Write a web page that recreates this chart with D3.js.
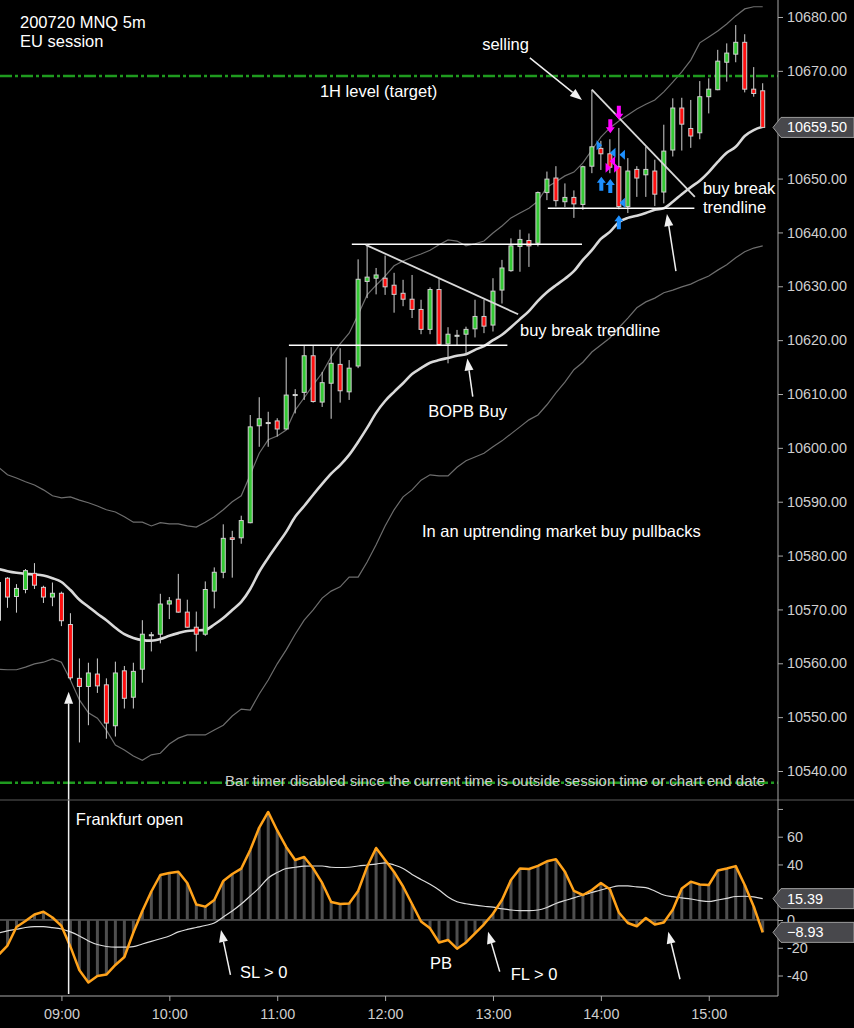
<!DOCTYPE html>
<html>
<head>
<meta charset="utf-8">
<script src="https://cdn.jsdelivr.net/npm/d3@7"></script>
<style>
  html, body { margin: 0; padding: 0; background: #000; }
  svg { display: block; font-family: "Liberation Sans", Arial, sans-serif; }
</style>
</head>
<body>
<div id="chart"></div>
<script>
// 5 minute bars, 08:25 .. 15:30
const barTimes = d3.range(86).map(i => new Date(2020, 6, 20, 8, 25 + 5 * i));

const opens = [10568.0,10575.8,10572.4,10573.7,10576.7,10574.1,10572.3,10573.0,10567.2,10557.2,
  10555.7,10558.0,10556.0,10548.4,10558.6,10553.7,10558.9,10565.2,10565.4,10571.0,
  10571.9,10569.5,10566.7,10565.4,10573.4,10576.9,10583.3,10583.3,10586.1,10604.1,
  10604.7,10605.0,10603.5,10609.8,10610.3,10617.1,10608.5,10612.0,10615.5,10610.4,
  10615.2,10630.9,10631.5,10631.5,10630.2,10628.7,10627.6,10625.7,10622.0,10629.4,
  10619.3,10620.8,10621.1,10622.1,10624.4,10622.8,10629.3,10632.9,10637.4,10638.5,
  10638.0,10647.4,10650.1,10645.7,10646.5,10645.2,10652.3,10655.6,10654.6,10652.2,
  10644.8,10651.7,10650.7,10651.4,10647.5,10655.3,10663.1,10659.3,10658.5,10665.2,
  10666.5,10671.6,10673.1,10675.3,10666.6,10666.3];
const highs = [10576.0,10576.0,10574.7,10577.5,10578.6,10574.4,10575.0,10573.3,10569.3,10560.9,
  10560.1,10560.9,10557.2,10560.3,10559.5,10560.1,10568.0,10565.8,10572.9,10572.3,
  10576.6,10571.8,10569.6,10575.2,10577.8,10585.8,10584.6,10587.4,10606.1,10609.4,
  10606.7,10605.5,10616.8,10610.9,10619.1,10619.1,10614.1,10618.7,10618.5,10616.3,
  10635.0,10637.7,10633.4,10635.7,10632.5,10631.2,10632.1,10627.5,10629.8,10631.4,
  10622.4,10621.9,10622.5,10627.5,10627.5,10631.5,10634.9,10638.9,10640.5,10639.8,
  10647.6,10651.3,10652.3,10649.1,10647.8,10652.4,10666.5,10657.0,10657.3,10659.4,
  10653.8,10652.3,10655.9,10653.5,10660.0,10664.9,10665.0,10664.6,10668.1,10668.6,
  10673.9,10675.1,10678.5,10676.8,10670.7,10667.7];
const lows = [10565.8,10570.3,10569.4,10573.0,10573.8,10571.2,10570.6,10566.9,10556.9,10545.3,
  10548.5,10554.5,10546.0,10546.4,10551.6,10551.6,10556.4,10562.2,10563.7,10568.2,
  10569.4,10566.6,10562.2,10565.1,10570.2,10575.8,10575.9,10582.2,10586.0,10600.2,
  10600.2,10602.1,10603.4,10606.4,10608.9,10608.4,10607.6,10605.4,10608.4,10608.9,
  10614.8,10627.8,10628.5,10628.4,10625.1,10626.3,10624.1,10621.1,10621.1,10619.2,
  10615.7,10619.1,10617.3,10620.5,10621.3,10621.6,10626.8,10632.7,10632.7,10633.6,
  10637.4,10646.0,10644.8,10644.7,10642.7,10644.2,10651.0,10651.6,10651.0,10644.3,
  10643.6,10646.6,10646.6,10644.9,10645.4,10654.1,10655.2,10655.7,10657.3,10662.1,
  10666.4,10668.0,10671.6,10666.0,10665.2,10659.5];
const closes = [10575.0,10572.3,10573.9,10577.2,10574.5,10572.3,10573.0,10567.9,10557.3,10555.7,
  10558.2,10555.8,10548.9,10558.2,10553.5,10558.5,10565.4,10565.3,10571.0,10571.6,
  10569.5,10566.7,10565.4,10573.7,10576.9,10583.2,10583.0,10586.5,10603.9,10605.4,
  10604.6,10603.5,10609.8,10609.9,10617.1,10608.6,10612.1,10615.7,10610.6,10614.8,
  10631.3,10631.7,10632.1,10629.9,10628.5,10627.6,10625.7,10622.0,10629.4,10619.2,
  10621.1,10620.9,10622.0,10624.4,10622.6,10629.1,10633.4,10637.5,10638.7,10637.5,
  10647.4,10649.9,10645.9,10646.5,10645.3,10652.2,10655.9,10654.6,10652.1,10644.8,
  10651.4,10650.1,10651.7,10647.1,10655.1,10663.1,10660.1,10657.9,10665.2,10666.6,
  10671.8,10673.3,10675.3,10666.6,10665.8,10659.5];

// channel: middle line and bands
const midLine = [10577.5,10577.1,10576.8,10576.6,10576.5,10576.3,10575.8,10575.1,10573.6,10571.8,
  10570.5,10569.2,10568.0,10566.6,10565.4,10564.7,10564.3,10564.2,10564.5,10565.1,
  10565.6,10566.0,10566.1,10566.2,10567.2,10568.4,10569.9,10571.4,10573.8,10577.0,
  10579.6,10582.0,10584.4,10587.2,10589.2,10591.3,10593.3,10595.2,10596.8,10598.7,
  10601.1,10603.7,10606.5,10608.7,10610.4,10612.0,10613.7,10614.8,10615.8,10616.3,
  10616.7,10617.1,10617.4,10618.2,10618.9,10620.0,10621.0,10622.4,10623.9,10625.4,
  10627.3,10628.9,10630.2,10631.4,10632.8,10634.9,10636.7,10638.8,10640.1,10641.9,
  10642.7,10643.1,10643.6,10644.2,10644.5,10645.7,10647.1,10648.4,10649.6,10651.2,
  10653.1,10654.8,10655.9,10657.9,10659.0,10659.6];
const upperBand = [10596.4,10595.0,10594.4,10593.7,10593.1,10592.2,10591.1,10590.7,10590.9,10590.3,
  10589.8,10589.2,10588.5,10588.1,10587.2,10586.2,10586.2,10585.5,10586.1,10585.9,
  10585.9,10585.5,10585.3,10586.2,10587.2,10588.5,10590.0,10591.1,10595.0,10599.0,
  10601.5,10602.2,10603.3,10607.0,10609.3,10611.7,10613.9,10616.9,10619.3,10621.3,
  10624.7,10628.4,10630.2,10631.9,10633.8,10634.7,10635.4,10636.0,10636.7,10637.7,
  10638.6,10638.4,10637.5,10637.9,10638.4,10639.9,10641.2,10642.7,10643.6,10644.5,
  10645.8,10648.4,10649.4,10650.5,10651.2,10652.9,10655.3,10657.7,10659.4,10660.7,
  10661.8,10662.9,10663.8,10664.6,10666.1,10667.9,10669.8,10672.0,10675.2,10676.3,
  10677.4,10678.7,10680.2,10681.5,10681.9,10681.9];
const lowerBand = [10558.9,10558.8,10558.8,10559.3,10559.9,10560.2,10560.8,10560.2,10556.9,10553.2,
  10550.8,10549.8,10547.6,10544.8,10543.9,10542.8,10542.0,10543.0,10543.3,10545.0,
  10546.1,10546.7,10546.7,10546.7,10547.6,10548.5,10550.2,10551.5,10551.3,10554.3,
  10556.9,10559.9,10562.5,10565.4,10568.0,10569.9,10572.1,10573.4,10574.2,10576.0,
  10576.0,10578.8,10582.0,10585.5,10588.5,10590.9,10592.2,10594.0,10595.0,10594.8,
  10594.8,10596.4,10597.6,10598.3,10599.0,10600.2,10601.3,10602.6,10603.9,10605.2,
  10606.1,10608.0,10610.2,10612.2,10614.5,10615.9,10617.8,10619.1,10620.4,10622.3,
  10624.1,10626.0,10627.1,10627.8,10628.8,10629.3,10629.9,10630.4,10631.2,10631.9,
  10633.0,10634.0,10635.3,10636.4,10637.1,10637.5];

// lower panel oscillator
const oscMain = [-25.2,-18.4,-5.0,-0.7,4.0,5.9,1.8,-4.3,-19.2,-36.3,
  -45.0,-40.3,-39.3,-32.4,-26.7,-9.0,6.5,20.5,32.4,33.9,
  34.7,26.7,11.2,9.6,14.4,28.1,33.1,37.0,50.4,66.6,
  77.8,64.5,52.6,43.2,45.4,37.2,26.7,13.0,11.5,11.9,
  20.9,38.4,51.9,43.2,34.6,24.1,11.5,-1.1,-6.0,-16.2,
  -14.4,-20.7,-16.2,-9.6,-3.1,4.5,14.4,28.8,37.1,36.7,
  39.0,42.3,43.8,34.8,20.9,18.0,21.6,26.7,22.1,5.4,
  -2.2,-4.5,1.4,-3.2,-1.8,7.4,22.7,27.6,25.6,25.2,
  35.7,37.1,38.8,25.2,9.7,-8.93];
const oscSignal = [-9.4,-7.9,-6.7,-5.4,-4.8,-4.8,-5.5,-6.5,-8.6,-11.5,
  -15.1,-17.7,-19.1,-19.6,-19.6,-19.2,-17.3,-15.4,-13.5,-11.5,
  -8.6,-6.8,-5.4,-4.0,-2.2,2.2,6.5,11.5,17.3,23.1,
  30.3,34.2,37.1,38.0,38.8,38.9,38.9,38.0,37.8,38.0,
  38.9,39.6,40.3,41.2,39.6,37.1,32.8,29.2,25.7,21.6,
  16.6,13.1,11.7,10.7,9.9,9.2,8.1,7.2,6.8,6.8,
  7.2,9.0,11.9,14.0,15.9,18.0,19.8,21.6,23.2,24.6,
  24.5,23.8,23.3,20.9,18.0,16.8,15.9,15.1,14.0,13.3,
  14.4,15.6,16.9,17.1,16.7,15.39];

// axis ticks; labels hidden behind the value tags are left out
const priceTicks = [10540,10550,10560,10570,10580,10590,10600,10610,10620,10630,10640,10650,10660,10670,10680];
const priceLabels = [10540,10550,10560,10570,10580,10590,10600,10610,10620,10630,10640,10650,10670,10680];
const oscTicks = [80, 60, 40, 20, 0, -20, -40];
const oscLabels = [60, 40, 0, -20, -40];

// drawn objects (bar index, price / osc value)
const levelLines = [10669.05, 10537.8];
const hLines = [[39.3, 64.9, 10637.8], [32.3, 56.6, 10619.05], [61.1, 77.4, 10644.5]];
const trendLines = [[40.85, 10637.7, 57.8, 10624.8], [66.0, 10666.5, 77.45, 10646.6]];
const priceArrows = [[59.1, 10672.4, 64.9, 10664.6], [52.75, 10609.5, 52.15, 10616.6], [75.35, 10632.8, 74.35, 10643.4]];
const oscArrows = [[25.8, -39.6, 24.75, -7.2], [55.75, -37.2, 54.45, -8.4], [75.8, -42.7, 74.5, -8.4]];
const priceNotes = [
  ["1H level (target)", 35.75, 10665.1],
  ["selling", 53.8, 10673.9],
  ["buy break trendline", 58.0, 10620.8],
  ["BOPB Buy", 47.8, 10605.8],
  ["buy break", 78.35, 10647.1],
  ["trendline", 78.35, 10643.55],
  ["In an uptrending market buy pullbacks", 47.1, 10583.4]
];
const oscNotes = [
  ["Frankfurt open", 8.6, 68.4],
  ["SL > 0", 26.85, -41.8],
  ["PB", 48.0, -35.3],
  ["FL > 0", 56.97, -43.2]
];
const frankfurt = { i: 7.8, price: 10554.7, osc: -53.3 };
const markers = [
  [69.0, 10660.9, "down", "#ff00ff"], [68.05, 10658.4, "down", "#ff00ff"],
  [67.05, 10650.35, "up", "#1e90ff"], [68.05, 10649.9, "up", "#1e90ff"], [69.0, 10643.2, "up", "#1e90ff"],
  [66.8, 10656.2, "right", "#1e90ff"], [68.35, 10654.8, "left", "#1e90ff"],
  [69.4, 10654.4, "left", "#1e90ff"], [69.4, 10645.5, "left", "#1e90ff"],
  [67.8, 10652.0, "right", "#ff00ff"], [68.75, 10652.0, "right", "#ff00ff"], [68.3, 10653.2, "left", "#ff00ff"]
];

const W = 854, H = 1028, axisX = 778, sepY = 800, bottomY = 996;
const textCol = "#cfcfcf";

const svg = d3.select("#chart").append("svg").attr("width", W).attr("height", H);
svg.append("rect").attr("width", W).attr("height", H).attr("fill", "#000");

const x = d3.scaleLinear().domain([0, 85]).range([-1.5, 762.7]);
const xt = d3.scaleTime().domain([barTimes[0], barTimes[85]]).range(x.range());
const y = d3.scaleLinear().domain([10540, 10680]).range([771, 17]);
const yo = d3.scaleLinear().domain([-40, 60]).range([975.5, 836.7]);

const defs = svg.append("defs");
defs.append("clipPath").attr("id", "pclip").append("rect").attr("x", 0).attr("y", 0).attr("width", axisX).attr("height", sepY);
defs.append("clipPath").attr("id", "oclip").append("rect").attr("x", 0).attr("y", sepY).attr("width", axisX).attr("height", bottomY - sepY);

function arrow(g, x1, y1, x2, y2) {
  const a = Math.atan2(y2 - y1, x2 - x1), len = 12, hw = 4.5;
  const bx = x2 - len * Math.cos(a), by = y2 - len * Math.sin(a);
  g.append("line").attr("x1", x1).attr("y1", y1).attr("x2", bx).attr("y2", by)
    .attr("stroke", "#f0f0f0").attr("stroke-width", 1.5);
  g.append("polygon").attr("fill", "#f0f0f0").attr("points", [
    [x2, y2],
    [bx + hw * Math.sin(a), by - hw * Math.cos(a)],
    [bx - hw * Math.sin(a), by + hw * Math.cos(a)]
  ].map(p => p.join(",")).join(" "));
}

// ---------- price panel ----------
const pg = svg.append("g").attr("clip-path", "url(#pclip)");

const pline = d3.line().x((d, i) => x(i)).y(d => y(d));
[upperBand, lowerBand].forEach(b => {
  pg.append("path").datum(b).attr("d", pline).attr("fill", "none").attr("stroke", "#6e6e6e").attr("stroke-width", 1.2);
});
pg.append("path").datum(midLine).attr("d", pline.curve(d3.curveMonotoneX))
  .attr("fill", "none").attr("stroke", "#d9d9d9").attr("stroke-width", 2.6);

levelLines.forEach(p => {
  pg.append("line").attr("x1", 0).attr("x2", axisX).attr("y1", y(p)).attr("y2", y(p))
    .attr("stroke", "#1f9a1f").attr("stroke-width", 2.5).attr("stroke-dasharray", "12,3,3,3");
});

svg.append("text").attr("x", 225).attr("y", 786).attr("fill", "#cccccc").attr("font-size", 14)
  .attr("textLength", 540).attr("lengthAdjust", "spacingAndGlyphs")
  .text("Bar timer disabled since the current time is outside session time or chart end date");

// candles
const candles = pg.selectAll("g.candle").data(d3.range(86)).enter().append("g");
candles.append("line")
  .attr("x1", i => x(i)).attr("x2", i => x(i))
  .attr("y1", i => y(highs[i])).attr("y2", i => y(lows[i]))
  .attr("stroke", "#d0d0d0").attr("stroke-width", 1);
candles.append("rect")
  .attr("x", i => x(i) - 2).attr("width", 4)
  .attr("y", i => y(Math.max(opens[i], closes[i])))
  .attr("height", i => Math.max(1, Math.abs(y(opens[i]) - y(closes[i]))))
  .attr("fill", i => closes[i] >= opens[i] ? "#34c934" : "#ff1010")
  .attr("stroke", "#d0d0d0").attr("stroke-width", 1);

// drawing objects
hLines.forEach(d => {
  pg.append("line").attr("x1", x(d[0])).attr("x2", x(d[1])).attr("y1", y(d[2])).attr("y2", y(d[2]))
    .attr("stroke", "#ffffff").attr("stroke-width", 1.5);
});
trendLines.forEach(d => {
  pg.append("line").attr("x1", x(d[0])).attr("y1", y(d[1])).attr("x2", x(d[2])).attr("y2", y(d[3]))
    .attr("stroke", "#d8d8d8").attr("stroke-width", 1.8);
});
priceArrows.forEach(d => arrow(pg, x(d[0]), y(d[1]), x(d[2]), y(d[3])));

markers.forEach(m => {
  const cx = x(m[0]), cy = y(m[1]);
  let pts;
  if (m[2] === "down") pts = [[cx, cy], [cx - 4.5, cy - 6], [cx - 2, cy - 6], [cx - 2, cy - 14], [cx + 2, cy - 14], [cx + 2, cy - 6], [cx + 4.5, cy - 6]];
  else if (m[2] === "up") pts = [[cx, cy], [cx - 4.5, cy + 6], [cx - 2, cy + 6], [cx - 2, cy + 14], [cx + 2, cy + 14], [cx + 2, cy + 6], [cx + 4.5, cy + 6]];
  else if (m[2] === "right") pts = [[cx - 2.5, cy - 5], [cx + 3, cy], [cx - 2.5, cy + 5]];
  else pts = [[cx + 2.5, cy - 5], [cx - 3, cy], [cx + 2.5, cy + 5]];
  pg.append("polygon").attr("points", pts.map(p => p.join(",")).join(" ")).attr("fill", m[3]);
});

priceNotes.forEach(d => {
  pg.append("text").attr("x", x(d[1])).attr("y", y(d[2])).attr("fill", "#ffffff").attr("font-size", 16.5).text(d[0]);
});

svg.append("text").attr("x", 20).attr("y", 28).attr("fill", "#ffffff").attr("font-size", 16.5).text("200720 MNQ 5m");
svg.append("text").attr("x", 20).attr("y", 47).attr("fill", "#ffffff").attr("font-size", 16.5).text("EU session");

// ---------- oscillator panel ----------
const og = svg.append("g").attr("clip-path", "url(#oclip)");
og.append("line").attr("x1", 0).attr("x2", axisX).attr("y1", yo(0)).attr("y2", yo(0)).attr("stroke", "#8a8a8a").attr("stroke-width", 1);
og.selectAll("rect.hist").data(oscMain).enter().append("rect")
  .attr("x", (d, i) => x(i) - 1.5).attr("width", 3)
  .attr("y", d => Math.min(yo(0), yo(d))).attr("height", d => Math.abs(yo(d) - yo(0)))
  .attr("fill", "#4f4f4f");
const oline = d3.line().x((d, i) => x(i)).y(d => yo(d));
og.append("path").datum(oscSignal).attr("d", oline.curve(d3.curveMonotoneX))
  .attr("fill", "none").attr("stroke", "#dcdcdc").attr("stroke-width", 1.2);
og.append("path").datum(oscMain).attr("d", d3.line().x((d, i) => x(i)).y(d => yo(d)))
  .attr("fill", "none").attr("stroke", "#ffa21a").attr("stroke-width", 2.5).attr("stroke-linejoin", "round");

oscArrows.forEach(d => arrow(og, x(d[0]), yo(d[1]), x(d[2]), yo(d[3])));
oscNotes.forEach(d => {
  og.append("text").attr("x", x(d[1])).attr("y", yo(d[2])).attr("fill", "#ffffff").attr("font-size", 16.5).text(d[0]);
});

// Frankfurt open marker across both panels
arrow(svg, x(frankfurt.i), yo(frankfurt.osc), x(frankfurt.i), y(frankfurt.price));

// ---------- axes ----------
svg.append("line").attr("x1", 0).attr("x2", W).attr("y1", sepY).attr("y2", sepY).attr("stroke", "#5a5a5a");
svg.append("line").attr("x1", axisX).attr("x2", axisX).attr("y1", 0).attr("y2", bottomY).attr("stroke", "#a8a8a8");
svg.append("line").attr("x1", 0).attr("x2", axisX).attr("y1", bottomY).attr("y2", bottomY).attr("stroke", "#a8a8a8");

function styleAxis(g) {
  g.select(".domain").remove();
  g.selectAll("line").attr("stroke", "#a8a8a8");
  g.selectAll("text").attr("fill", textCol).attr("font-size", 14.4).attr("font-family", "Liberation Sans, Arial, sans-serif");
}

svg.append("g").attr("transform", `translate(${axisX},0)`)
  .call(d3.axisRight(y).tickValues(priceTicks)
    .tickFormat(d => priceLabels.includes(d) ? d3.format(".2f")(d) : "").tickSize(5).tickPadding(4))
  .call(styleAxis);

svg.append("g").attr("transform", `translate(${axisX},0)`)
  .call(d3.axisRight(yo).tickValues(oscTicks).tickFormat(d => oscLabels.includes(d) ? d : "").tickSize(5).tickPadding(4))
  .call(styleAxis);

svg.append("g").attr("transform", `translate(0,${bottomY})`)
  .call(d3.axisBottom(xt).ticks(d3.timeHour.every(1)).tickFormat(d3.timeFormat("%H:%M")).tickSize(5).tickPadding(8))
  .call(styleAxis);

// value tags
function valueTag(yPos, label) {
  const pts = [[axisX - 5, yPos], [axisX + 3, yPos - 10], [W, yPos - 10], [W, yPos + 10], [axisX + 3, yPos + 10]];
  svg.append("polygon").attr("points", pts.map(p => p.join(",")).join(" "))
    .attr("fill", "#48484c").attr("stroke", "#9c9c9c").attr("stroke-width", 1);
  svg.append("text").attr("x", axisX + 9).attr("y", yPos + 5).attr("fill", "#ffffff").attr("font-size", 14.4).text(label);
}
valueTag(y(closes[85]), d3.format(".2f")(closes[85]));
valueTag(yo(oscSignal[85]), d3.format(".2f")(oscSignal[85]));
valueTag(yo(oscMain[85]), d3.format(".2f")(oscMain[85]));
</script>
</body>
</html>
